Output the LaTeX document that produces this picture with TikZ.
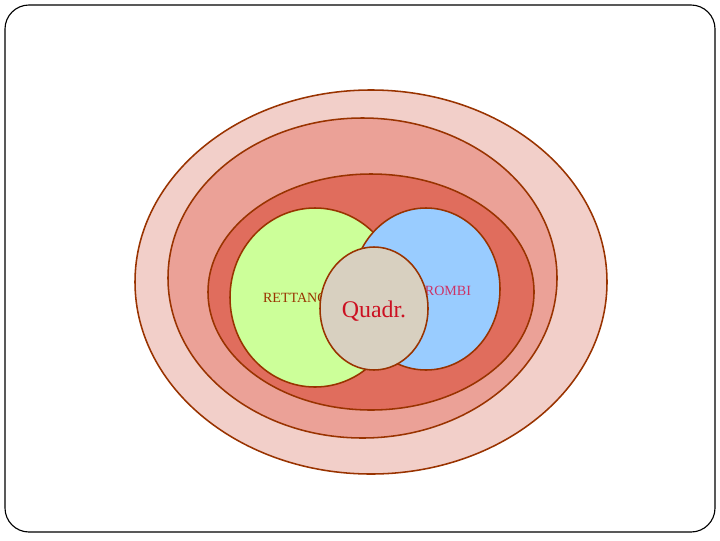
\documentclass[tikz,border=0pt]{standalone}
\usepackage{fontspec}
\setmainfont{Liberation Serif}
\definecolor{bordo}{HTML}{993300}
\definecolor{rosa1}{HTML}{F2CFC9}
\definecolor{rosa2}{HTML}{EBA197}
\definecolor{rosa3}{HTML}{E06D5D}
\definecolor{verde}{HTML}{CCFF99}
\definecolor{azzurro}{HTML}{99CCFF}
\definecolor{grigio}{HTML}{D8D0C0}
\tikzset{insieme/.style={draw=bordo,line width=1.1pt}}
\begin{document}
\begin{tikzpicture}[x=0.025cm,y=-0.025cm]
\useasboundingbox (0,0) rectangle (720,540);
\draw[line width=0.8pt,rounded corners=0.6cm] (5,5) rectangle (715,532);
\draw[insieme,fill=rosa1] (371,282) ellipse (236 and 192);
\draw[insieme,fill=rosa2] (362.5,278) ellipse (194.5 and 160);
\draw[insieme,fill=rosa3] (371,292) ellipse (163 and 118);
\draw[insieme,fill=verde] (315,297.5) ellipse (85 and 89.5);
\node[text=bordo,font=\fontsize{10pt}{12pt}\selectfont] (rett) at (307,298) {RETTANGOLI};
\draw[insieme,fill=azzurro] (426,289) ellipse (74 and 81);
\node[text={rgb,255:red,204;green,51;blue,102},font=\fontsize{10pt}{12pt}\selectfont] (rombi) at (448,291) {ROMBI};
\draw[insieme,fill=grigio] (374,308.5) ellipse (54 and 61.5);
\node[text={rgb,255:red,204;green,17;blue,34},font=\fontsize{17pt}{20pt}\selectfont] (quadr) at (374,311) {Quadr.};
\end{tikzpicture}
\end{document}
